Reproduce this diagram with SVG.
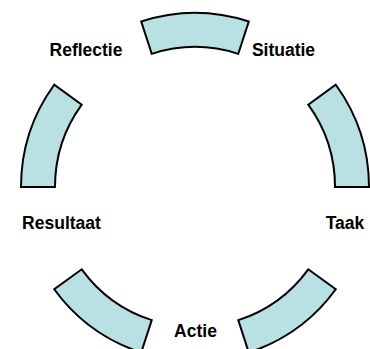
<svg xmlns="http://www.w3.org/2000/svg" width="370" height="349" viewBox="0 0 370 349">
  <style>
    .seg { fill: #B9E0E3; stroke: #000; stroke-width: 2; stroke-linejoin: miter; }
    .lbl { font-family: "Liberation Sans", Arial, sans-serif; font-weight: bold; font-size: 17.5px; fill: #000; text-anchor: middle; }
  </style>
  <rect width="370" height="349" fill="#fff"/>
  <!-- five arc segments around centre (195,187), outer r 174, inner r 140 -->
  <g id="situatie">
    <path class="seg" d="M141.23,21.52 A174,174 0 0 1 248.77,21.52 L238.26,53.85 A140,140 0 0 0 151.74,53.85 Z"/>
    <text class="lbl" x="283.5" y="56">Situatie</text>
  </g>
  <g id="taak">
    <path class="seg" d="M335.77,84.72 A174,174 0 0 1 369,187 L335,187 A140,140 0 0 0 308.26,104.71 Z"/>
    <text class="lbl" x="345" y="228.5">Taak</text>
  </g>
  <g id="actie">
    <path class="seg" d="M335.77,289.28 A174,174 0 0 1 248.77,352.48 L238.26,320.15 A140,140 0 0 0 308.26,269.29 Z"/>
    <text class="lbl" x="195.5" y="336.5">Actie</text>
  </g>
  <g id="resultaat">
    <path class="seg" d="M141.23,352.48 A174,174 0 0 1 54.23,289.28 L81.74,269.29 A140,140 0 0 0 151.74,320.15 Z"/>
    <text class="lbl" x="61.5" y="228.5">Resultaat</text>
  </g>
  <g id="reflectie">
    <path class="seg" d="M21,187 A174,174 0 0 1 54.23,84.72 L81.74,104.71 A140,140 0 0 0 55,187 Z"/>
    <text class="lbl" x="86" y="56">Reflectie</text>
  </g>
  <g id="connectors"/>
</svg>
